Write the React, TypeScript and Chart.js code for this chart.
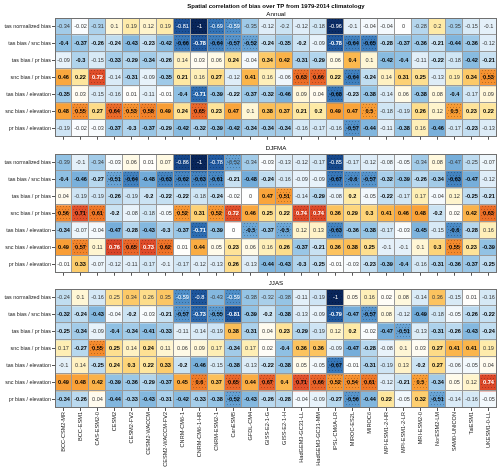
import React, { useEffect, useRef } from 'react';
import { Chart, registerables } from 'chart.js';

Chart.register(...registerables);

const models = [
  'BCC-CSM2-MR', 'BCC-ESM1', 'CAS-ESM2-0', 'CESM2', 'CESM2-FV2', 'CESM2-WACCM', 'CESM2-WACCM-FV2',
  'CNRM-CM6-1', 'CNRM-CM6-1-HR', 'CNRM-ESM2-1', 'CanESM5', 'GFDL-CM4', 'GISS-E2-1-G', 'GISS-E2-1-H',
  'HadGEM3-GC31-LL', 'HadGEM3-GC31-MM', 'IPSL-CM6A-LR', 'MIROC-ES2L', 'MIROC6', 'MPI-ESM1-2-HR',
  'MPI-ESM1-2-LR', 'MRI-ESM2-0', 'NorESM2-LM', 'SAM0-UNICON', 'TaiESM1', 'UKESM1-0-LL',
];

const rowLabels = [
  'tas normalized bias', 'tas bias / snc bias', 'tas bias / pr bias', 'snc bias / pr bias',
  'tas bias / elevation', 'snc bias / elevation', 'pr bias / elevation',
];

const mainTitle = 'Spatial correlation of bias over TP from 1979-2014 climatology';
const seasonNames = ['Annual', 'DJFMA', 'JJAS'];

const annual = [
  [-0.34, -0.02, -0.31, 0.1, 0.19, 0.12, 0.19, -0.81, -1, -0.69, -0.59, -0.35, -0.12, -0.2, -0.12, -0.18, -0.96, -0.1, -0.04, -0.04, 0, -0.28, 0.2, -0.35, -0.15, -0.1],
  [-0.4, -0.37, -0.26, -0.24, -0.43, -0.23, -0.42, -0.66, -0.78, -0.64, -0.57, -0.52, -0.24, -0.35, -0.2, -0.09, -0.78, -0.64, -0.65, -0.28, -0.37, -0.36, -0.21, -0.44, -0.36, -0.12],
  [-0.09, -0.3, -0.15, -0.33, -0.29, -0.34, -0.26, 0.14, 0.03, 0.06, 0.24, -0.04, 0.34, 0.42, -0.31, -0.29, 0.06, 0.4, 0.1, -0.42, -0.4, -0.11, -0.22, -0.18, -0.42, -0.21],
  [0.46, 0.22, 0.72, -0.14, -0.31, -0.09, -0.35, 0.21, 0.16, 0.27, -0.12, 0.41, 0.16, -0.06, 0.63, 0.66, 0.22, -0.64, -0.24, 0.14, 0.31, 0.25, -0.13, 0.19, 0.34, 0.53],
  [-0.35, 0.03, -0.15, -0.16, 0.01, -0.11, -0.01, -0.4, -0.71, -0.39, -0.22, -0.37, -0.32, -0.46, 0.09, 0.04, -0.68, -0.23, -0.38, -0.14, 0.06, -0.38, 0.08, -0.4, -0.17, 0.09],
  [0.48, 0.55, 0.27, 0.64, 0.53, 0.58, 0.49, 0.24, 0.65, 0.23, 0.47, 0.1, 0.38, 0.37, 0.21, 0.2, 0.49, 0.47, 0.5, -0.18, -0.19, 0.26, 0.12, 0.5, 0.23, 0.22],
  [-0.19, -0.02, -0.03, -0.37, -0.3, -0.37, -0.29, -0.42, -0.32, -0.39, -0.42, -0.34, -0.34, -0.34, -0.16, -0.17, -0.16, -0.57, -0.44, -0.11, -0.38, 0.16, -0.46, -0.17, -0.23, -0.13],
];

const djfma = [
  [-0.39, -0.1, -0.34, -0.03, 0.06, 0.01, 0.07, -0.86, -1, -0.78, -0.52, -0.34, -0.03, -0.13, -0.12, -0.17, -0.85, -0.17, -0.12, -0.08, -0.05, -0.34, 0.08, -0.47, -0.25, -0.07],
  [-0.4, -0.46, -0.27, -0.51, -0.64, -0.48, -0.63, -0.62, -0.63, -0.61, -0.21, -0.48, -0.24, -0.16, -0.09, -0.09, -0.67, -0.6, -0.57, -0.32, -0.39, -0.26, -0.34, -0.63, -0.47, -0.12],
  [0.04, -0.19, -0.19, -0.26, -0.19, -0.2, -0.22, -0.22, -0.18, -0.24, -0.02, 0, 0.47, 0.51, -0.14, -0.29, -0.08, 0.2, -0.05, -0.22, -0.17, 0.17, -0.04, 0.12, -0.25, -0.21],
  [0.56, 0.71, 0.61, -0.2, -0.08, -0.18, -0.05, 0.52, 0.31, 0.52, 0.72, 0.46, 0.25, 0.22, 0.74, 0.74, 0.36, 0.29, 0.3, 0.41, 0.46, 0.48, -0.2, 0.02, 0.42, 0.63],
  [-0.34, -0.07, -0.04, -0.47, -0.28, -0.43, -0.3, -0.37, -0.71, -0.39, 0, -0.5, -0.37, -0.5, 0.12, 0.13, -0.63, -0.36, -0.38, -0.17, -0.03, -0.45, -0.15, -0.6, -0.28, 0.16],
  [0.49, 0.57, 0.11, 0.76, 0.65, 0.73, 0.62, 0.01, 0.44, 0.05, 0.23, 0.06, 0.16, 0.26, -0.37, -0.21, 0.36, 0.38, 0.25, -0.1, -0.1, 0.1, 0.3, 0.55, 0.23, -0.39],
  [-0.01, 0.33, -0.07, -0.12, -0.11, -0.17, -0.1, -0.17, -0.12, -0.13, 0.26, -0.13, -0.44, -0.43, -0.3, -0.25, -0.01, -0.03, -0.23, -0.39, -0.4, -0.16, -0.31, -0.36, -0.37, -0.25],
];

const jjas = [
  [-0.24, 0.1, -0.16, 0.25, 0.34, 0.26, 0.35, -0.59, -0.8, -0.43, -0.59, -0.38, -0.32, -0.38, -0.11, -0.19, -1, 0.05, 0.16, 0.02, 0.08, -0.14, 0.36, -0.15, 0.01, -0.16],
  [-0.32, -0.24, -0.43, -0.04, -0.2, -0.03, -0.21, -0.57, -0.73, -0.55, -0.81, -0.39, -0.2, -0.38, -0.13, -0.09, -0.79, -0.47, -0.57, 0.08, -0.12, -0.49, -0.18, -0.05, -0.26, -0.22],
  [-0.25, -0.34, -0.09, -0.4, -0.34, -0.41, -0.33, -0.11, -0.14, -0.19, 0.38, -0.31, 0.04, 0.23, -0.29, -0.19, 0.12, 0.2, -0.02, -0.47, -0.51, -0.13, -0.31, -0.26, -0.43, -0.24],
  [0.17, -0.27, 0.55, 0.25, 0.14, 0.24, 0.11, 0.06, 0.09, 0.17, -0.34, 0.17, 0.02, -0.4, 0.36, 0.36, -0.09, -0.47, -0.28, -0.08, 0.1, 0.03, 0.27, 0.41, 0.41, 0.19],
  [-0.1, 0.14, -0.25, 0.24, 0.3, 0.22, 0.33, -0.2, -0.46, -0.15, -0.38, -0.13, -0.22, -0.38, 0.05, -0.05, -0.67, -0.01, -0.31, -0.19, 0.13, -0.2, 0.27, -0.06, -0.05, 0.04],
  [0.49, 0.48, 0.42, -0.39, -0.36, -0.29, -0.37, 0.45, 0.6, 0.37, 0.65, 0.44, 0.67, 0.4, 0.71, 0.66, 0.52, 0.54, 0.61, -0.12, -0.21, 0.5, -0.34, 0.05, 0.12, 0.74],
  [-0.34, -0.26, 0.04, -0.44, -0.33, -0.43, -0.31, -0.42, -0.33, -0.38, -0.52, -0.43, -0.26, -0.28, -0.04, -0.09, -0.27, -0.56, -0.44, 0.22, -0.05, 0.32, -0.51, -0.14, -0.16, -0.05],
];

const FAMILY = '"Liberation Sans", Arial, Helvetica, sans-serif';

const colorStops: [number, string][] = [
  [-1.0, '#08255a'], [-0.9, '#0f3a7a'], [-0.8, '#1d559c'], [-0.7, '#2f6fb3'], [-0.6, '#4b8bc6'],
  [-0.5, '#6ba6d6'], [-0.4, '#8fc0e3'], [-0.3, '#afd3ec'], [-0.2, '#cbe3f3'], [-0.1, '#e4f0f9'],
  [0, '#ffffff'], [0.1, '#fff6d5'], [0.2, '#feeaa6'], [0.3, '#fdd479'], [0.4, '#fbb84e'],
  [0.5, '#f89b33'], [0.6, '#f07a26'], [0.7, '#e4522a'], [0.8, '#d23a26'], [1.0, '#a81e1e'],
];

function hexRgb(h: string) {
  return [parseInt(h.slice(1, 3), 16), parseInt(h.slice(3, 5), 16), parseInt(h.slice(5, 7), 16)];
}

function heatColor(v: number) {
  const val = Math.max(-1, Math.min(1, Number(v)));
  for (let i = 1; i < colorStops.length; i++) {
    const [v1, c1] = colorStops[i];
    if (val <= v1) {
      const [v0, c0] = colorStops[i - 1];
      const t = Math.max(0, Math.min(1, (val - v0) / (v1 - v0)));
      const a = hexRgb(c0), b = hexRgb(c1);
      const m = a.map((x, k) => Math.round(x + (b[k] - x) * t));
      return `rgb(${m[0]},${m[1]},${m[2]})`;
    }
  }
  return colorStops[colorStops.length - 1][1];
}

const heatPlugin = {
  id: 'heatcells',
  afterDatasetsDraw(chart: any) {
    const { ctx, chartArea: a } = chart;
    const xs = chart.scales.x;
    const ys = chart.scales.y;
    ctx.save();
    chart.data.datasets.forEach((ds: any, di: number) => {
      const meta = chart.getDatasetMeta(di);
      meta.data.forEach((el: any, j: number) => {
        const v = ds.data[j].v;
        const p = el.getProps(['x', 'y', 'base', 'width'], true);
        const l = p.x - p.width / 2;
        const r = p.x + p.width / 2;
        const t = Math.min(p.y, p.base);
        const b = Math.max(p.y, p.base);
        if (Math.abs(v) >= 0.5) {
          ctx.fillStyle = 'rgba(0,0,0,0.25)';
          for (let yy = Math.round(t) + 1; yy < b - 1; yy += 3) {
            for (let xx = Math.round(l) + 1 + ((yy - Math.round(t)) % 2); xx < r - 1; xx += 3) {
              ctx.fillRect(xx, yy, 1, 1);
            }
          }
        }
        const bold = di > 0 && Math.abs(v) >= 0.2;
        let col = bold ? '#000000' : '#3a3a3a';
        if (v >= 0.72 || v <= -0.7 || (di === 0 && v <= -0.55)) col = '#ffffff';
        ctx.fillStyle = col;
        ctx.font = `${bold ? 'bold ' : ''}5.6px ${FAMILY}`;
        ctx.textAlign = 'center';
        ctx.textBaseline = 'middle';
        ctx.fillText(String(v), p.x, (t + b) / 2 + 0.3);
      });
    });
    ctx.strokeStyle = '#9a9a9a';
    ctx.lineWidth = 1;
    ctx.beginPath();
    for (let j = 1; j < models.length; j++) {
      const xb = Math.round((xs.getPixelForValue(j - 1) + xs.getPixelForValue(j)) / 2) - 0.5;
      ctx.moveTo(xb, a.top);
      ctx.lineTo(xb, a.bottom);
    }
    for (let k = 1; k < rowLabels.length; k++) {
      const yb = Math.round(ys.getPixelForValue(k)) - 0.5;
      ctx.moveTo(a.left, yb);
      ctx.lineTo(a.right, yb);
    }
    ctx.stroke();
    ctx.strokeStyle = '#707070';
    ctx.strokeRect(Math.round(a.left) + 0.5, Math.round(a.top) + 0.5, Math.round(a.right) - Math.round(a.left) - 1, Math.round(a.bottom) - Math.round(a.top) - 1);
    ctx.restore();
  },
};

type PanelProps = {
  values: number[][];
  season: string;
  withMain: boolean;
  showX: boolean;
  top: number;
  height: number;
  titlePad: { top: number; bottom: number };
  bottomPad: number;
  xHeight: number;
};

function HeatPanel(props: PanelProps) {
  const ref = useRef<HTMLCanvasElement>(null);
  useEffect(() => {
    const { values, season, withMain, showX, titlePad, bottomPad, xHeight } = props;
    const plugins: any = {
      legend: { display: false },
      tooltip: { enabled: false },
    };
    if (withMain) {
      plugins.title = {
        display: true, text: mainTitle, fullSize: false, color: '#000',
        font: { family: FAMILY, size: 6, weight: 'bold', lineHeight: '7px' },
        padding: { top: 3, bottom: 1 },
      };
      plugins.subtitle = {
        display: true, text: season, fullSize: false, color: '#000',
        font: { family: FAMILY, size: 6.2, weight: 'normal', lineHeight: '7px' },
        padding: { top: 0, bottom: 0 },
      };
    } else {
      plugins.title = {
        display: true, text: season, fullSize: false, color: '#000',
        font: { family: FAMILY, size: 6.2, weight: 'normal', lineHeight: '7px' },
        padding: titlePad,
      };
    }
    const chart = new Chart(ref.current as HTMLCanvasElement, {
      type: 'bar',
      data: {
        labels: models,
        datasets: rowLabels.map((lab, r) => ({
          label: lab,
          data: models.map((m, j) => ({ x: m, y: [r, r + 1], v: values[r][j] })),
          backgroundColor: (c: any) => heatColor(c.raw ? c.raw.v : 0),
          borderWidth: 0,
          barPercentage: 1,
          categoryPercentage: 1,
          grouped: false,
        })),
      } as any,
      options: {
        animation: false,
        responsive: false,
        devicePixelRatio: 1,
        events: [],
        layout: { padding: { left: 0, right: 3, top: 0, bottom: bottomPad } },
        plugins,
        scales: {
          x: {
            type: 'category',
            offset: true,
            grid: { drawOnChartArea: false, drawTicks: true, tickLength: 3, color: '#555', offset: false },
            border: { display: false },
            ticks: {
              display: showX, autoSkip: false, maxRotation: 90, minRotation: 90, padding: 1,
              font: { family: FAMILY, size: 5.6 }, color: '#222',
            },
            afterFit: (s: any) => { if (showX) s.height = xHeight; },
          },
          y: {
            type: 'linear',
            min: 0,
            max: 7,
            reverse: true,
            afterBuildTicks: (s: any) => { s.ticks = rowLabels.map((_, i) => ({ value: i + 0.5 })); },
            ticks: {
              autoSkip: false, padding: 1, color: '#222',
              font: { family: FAMILY, size: 5.4 },
              callback: (v: any) => rowLabels[Math.floor(Number(v))],
            },
            grid: { drawOnChartArea: false, tickLength: 3, color: '#555' },
            border: { display: false },
            afterFit: (s: any) => { s.width = 55; },
          },
        },
      } as any,
      plugins: [heatPlugin],
    });
    return () => chart.destroy();
  }, []);
  return (
    <canvas
      ref={ref}
      width={500}
      height={props.height}
      style={{ position: 'absolute', left: 0, top: props.top, width: 500, height: props.height }}
    />
  );
}

export default function App() {
  return (
    <div style={{ position: 'fixed', left: 0, top: 0, width: 500, height: 469, background: '#ffffff', overflow: 'hidden' }}>
      <HeatPanel values={annual} season={seasonNames[0]} withMain={true} showX={false} top={0} height={141}
        titlePad={{ top: 3, bottom: 1 }} bottomPad={1} xHeight={0} />
      <HeatPanel values={djfma} season={seasonNames[1]} withMain={false} showX={false} top={141} height={136}
        titlePad={{ top: 3.5, bottom: 2.5 }} bottomPad={1} xHeight={0} />
      <HeatPanel values={jjas} season={seasonNames[2]} withMain={false} showX={true} top={277} height={192}
        titlePad={{ top: 2.5, bottom: 2.5 }} bottomPad={0} xHeight={61} />
    </div>
  );
}
